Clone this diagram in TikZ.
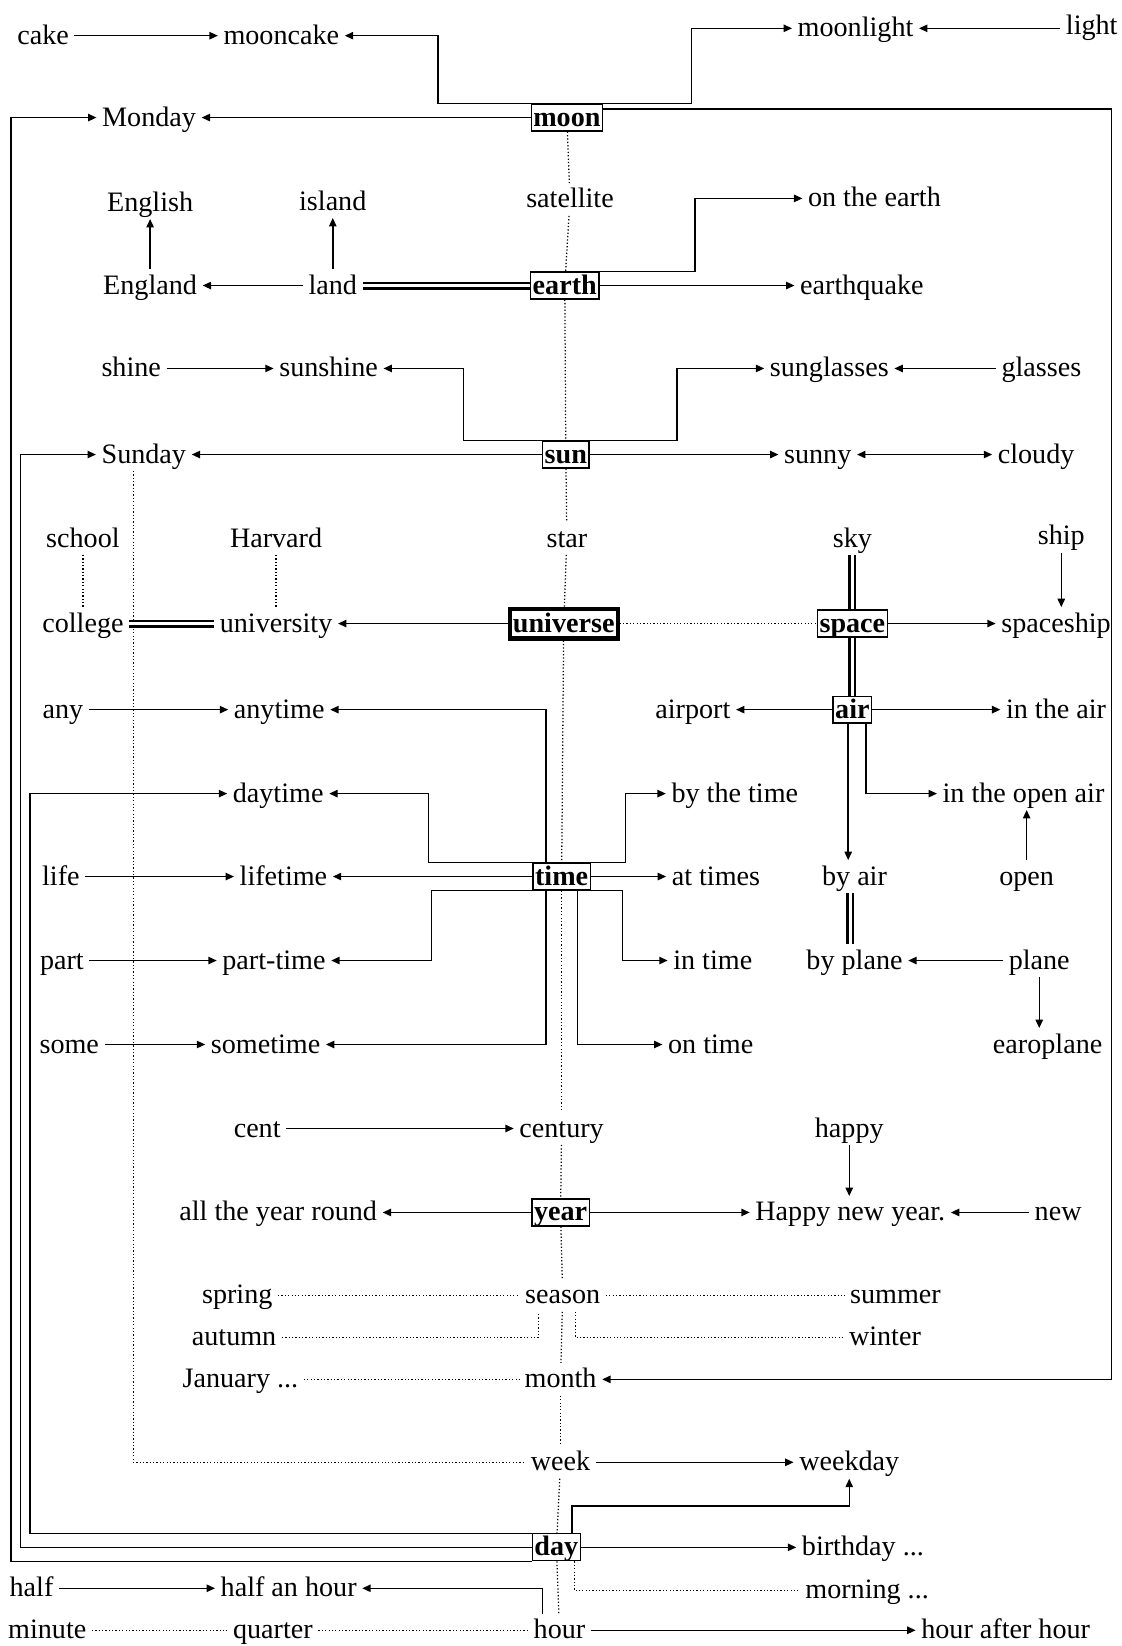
\documentclass[tikz,border=0pt]{standalone}
\usepackage{fontspec}
\setmainfont{Liberation Serif}
\usetikzlibrary{arrows.meta}
\begin{document}
\begin{tikzpicture}[x=0.5pt,y=-0.5pt,font=\fontsize{13.4}{15}\selectfont,
  word/.style={inner sep=2.5pt, text height=2.0ex, text depth=0.23ex},
  key/.style={word, draw, font=\fontsize{13.4}{15}\selectfont\bfseries, line width=0.6pt, inner xsep=1pt, inner ysep=1.3pt},
  hub/.style={key, line width=2pt, inner xsep=1.5pt, inner ysep=2pt},
  arr/.style={line width=0.7pt, -{Triangle[length=4pt,width=3.5pt]}},
  both/.style={line width=0.7pt, {Triangle[length=4pt,width=3.5pt]}-{Triangle[length=4pt,width=3.5pt]}},
  dot/.style={line width=0.6pt, densely dotted},
  twin/.style={line width=1.1pt, double, double distance=1.6pt}]
\useasboundingbox (0,0) rectangle (1068,1568);
\node[word] (cake) at (41,34) {cake};
\node[word] (mooncake) at (268,34) {mooncake};
\node[word] (moonlight) at (815,27) {moonlight};
\node[word] (light) at (1040,25) {light};
\node[key] (moon) at (540,112) {moon};
\node[word] (monday) at (142,112) {Monday};
\node[word] (satellite) at (543,190) {satellite};
\node[word] (english) at (143,193) {English};
\node[word] (island) at (317,192) {island};
\node[word] (onearth) at (833,189) {on the earth};
\node[word] (england) at (143,272) {England};
\node[word] (land) at (317,272) {land};
\node[key] (earth) at (538,272) {earth};
\node[word] (quake) at (821,272) {earthquake};
\node[word] (shine) at (125,351) {shine};
\node[word] (sunshine) at (313,351) {sunshine};
\node[word] (sunglasses) at (790,351) {sunglasses};
\node[word] (glasses) at (992,351) {glasses};
\node[key] (sun) at (539,433) {sun};
\node[word] (sunday) at (137,433) {Sunday};
\node[word] (sunny) at (779,433) {sunny};
\node[word] (cloudy) at (987,433) {cloudy};
\node[word] (school) at (79,513) {school};
\node[word] (harvard) at (263,513) {Harvard};
\node[word] (star) at (540,513) {star};
\node[word] (sky) at (812,513) {sky};
\node[word] (ship) at (1011,511) {ship};
\node[word] (college) at (79,594) {college};
\node[word] (university) at (263,594) {university};
\node[hub] (universe) at (537,594) {universe};
\node[key] (space) at (812,594) {space};
\node[word] (spaceship) at (1006,594) {spaceship};
\node[word] (any) at (60,676) {any};
\node[word] (anytime) at (266,676) {anytime};
\node[word] (airport) at (660,676) {airport};
\node[key] (air) at (812,676) {air};
\node[word] (inair) at (1006,676) {in the air};
\node[word] (daytime) at (265,756) {daytime};
\node[word] (bythetime) at (700,756) {by the time};
\node[word] (openair) at (975,756) {in the open air};
\node[word] (life) at (58,835) {life};
\node[word] (lifetime) at (270,835) {lifetime};
\node[key] (time) at (535,835) {time};
\node[word] (attimes) at (682,835) {at times};
\node[word] (byair) at (814,835) {by air};
\node[word] (open) at (978,835) {open};
\node[word] (part) at (59,915) {part};
\node[word] (parttime) at (261,915) {part-time};
\node[word] (intime) at (679,915) {in time};
\node[word] (byplane) at (814,915) {by plane};
\node[word] (plane) at (990,915) {plane};
\node[word] (some) at (66,995) {some};
\node[word] (sometime) at (253,995) {sometime};
\node[word] (ontime) at (677,995) {on time};
\node[word] (earoplane) at (998,995) {earoplane};
\node[word] (cent) at (245,1075) {cent};
\node[word] (century) at (535,1075) {century};
\node[word] (happy) at (809,1075) {happy};
\node[word] (allyear) at (265,1155) {all the year round};
\node[key] (year) at (534,1155) {year};
\node[word] (hny) at (810,1155) {Happy new year.};
\node[word] (new) at (1008,1155) {new};
\node[word] (spring) at (226,1234) {spring};
\node[word] (season) at (536,1234) {season};
\node[word] (summer) at (853,1234) {summer};
\node[word] (autumn) at (223,1274) {autumn};
\node[word] (winter) at (843,1274) {winter};
\node[word] (january) at (229,1314) {January ...};
\node[word] (month) at (534,1314) {month};
\node[word] (week) at (534,1393) {week};
\node[word] (weekday) at (809,1393) {weekday};
\node[key] (day) at (530,1474) {day};
\node[word] (birthday) at (822,1474) {birthday ...};
\node[word] (half) at (30,1513) {half};
\node[word] (halfhour) at (275,1513) {half an hour};
\node[word] (morning) at (826,1515) {morning ...};
\node[word] (minute) at (45,1553) {minute};
\node[word] (quarter) at (260,1553) {quarter};
\node[word] (hour) at (533,1553) {hour};
\node[word] (hourafter) at (958,1553) {hour after hour};
\foreach \a/\b in {moon/satellite,satellite/earth,earth/sun,sun/star,star/universe,universe/time,time/century,century/year,year/season,season/month,month/week,week/day,day/hour}
  \draw[dot] (\a) -- (\b);
\draw[arr] (cake) -- (mooncake);
\draw[arr] (moon.north west) -- ++(-88,0) |- (mooncake);
\draw[arr] (moon.north east) -- ++(84,0) |- (moonlight);
\draw[arr] (light.west |- moonlight) -- (moonlight);
\draw[arr] (moon) -- (monday);
\draw[arr] ([yshift=4pt]moon.east) -- ++(484,0) |- (month);
\draw[arr] (land) -- (england);
\draw[arr] (land) -- (island);
\draw[arr] (england) -- (english);
\draw[twin] (land) -- (earth);
\draw[arr] (earth.north east) -- ++(91,0) |- (onearth);
\draw[arr] (earth) -- (quake);
\draw[arr] (shine) -- (sunshine);
\draw[arr] (sun.north west) -- ++(-75,0) |- (sunshine);
\draw[arr] (sun.north east) -- ++(83,0) |- (sunglasses);
\draw[arr] (glasses) -- (sunglasses);
\draw[arr] (sun) -- (sunday);
\draw[arr] (sun) -- (sunny);
\draw[both] (sunny) -- (cloudy);
\draw[dot] ([xshift=-5pt]sunday.south) |- (week);
\draw[dot] (school) -- (college);
\draw[dot] (harvard) -- (university);
\draw[twin] (college) -- (university);
\draw[arr] (universe) -- (university);
\draw[dot] (universe) -- (space);
\draw[arr] (space) -- (spaceship);
\draw[arr] (ship) -- (ship |- spaceship.north);
\draw[twin] (sky) -- (space);
\draw[twin] (space) -- (air);
\draw[arr] (any) -- (anytime);
\draw[arr] ([xshift=-7.5pt]time.north) |- (anytime);
\draw[arr] (air) -- (airport);
\draw[arr] (air) -- (inair);
\draw[arr] ([xshift=6.5pt]air.south) |- (openair);
\draw[arr] ([xshift=-2pt]air.south) -- ([xshift=-2pt]air.south |- byair.north);
\draw[arr] (open) -- (open |- openair.south);
\draw[twin] ([xshift=-2pt]byair.south) -- ([xshift=-2pt]byplane.north);
\draw[arr] (time.north west) -- ++(-99,0) |- (daytime);
\draw[arr] (time.north east) -- ++(33,0) |- (bythetime);
\draw[arr] (life) -- (lifetime);
\draw[arr] (time) -- (lifetime);
\draw[arr] (time) -- (attimes);
\draw[arr] (time.south west) -- ++(-96,0) |- (parttime);
\draw[arr] (time.south east) -- ++(30,0) |- (intime);
\draw[arr] ([xshift=-7.5pt]time.south) |- (sometime);
\draw[arr] ([xshift=7.5pt]time.south) |- (ontime);
\draw[arr] (part) -- (parttime);
\draw[arr] (some) -- (sometime);
\draw[arr] (plane) -- (byplane);
\draw[arr] (plane) -- (plane |- earoplane.north);
\draw[arr] (cent) -- (century);
\draw[arr] (happy) -- (happy |- hny.north);
\draw[arr] (year) -- (allyear);
\draw[arr] (year) -- (hny);
\draw[arr] (new) -- (hny);
\draw[dot] (spring) -- (season);
\draw[dot] (season) -- (summer);
\draw[dot] (autumn) -| ([xshift=-11.5pt]season.south);
\draw[dot] ([xshift=6pt]season.south) |- (winter);
\draw[dot] (january) -- (month);
\draw[arr] (week) -- (weekday);
\draw[arr] ([xshift=7.5pt]day.north) -- ++(0,-26) -| (weekday.south);
\draw[arr] (day) -- (birthday);
\draw[dot] ([xshift=8.5pt]day.south) |- (morning);
\draw[arr] (day.south west) -- ++(-496,0) |- (monday);
\draw[arr] (day.west) -- ++(-487,0) |- (sunday);
\draw[arr] (day.north west) -- ++(-478,0) |- (daytime);
\draw[arr] (half) -- (halfhour);
\draw[arr] ([xshift=-8pt]hour.north) |- (halfhour);
\draw[dot] (minute) -- (quarter);
\draw[dot] (quarter) -- (hour);
\draw[arr] (hour) -- (hourafter);
\end{tikzpicture}
\end{document}
